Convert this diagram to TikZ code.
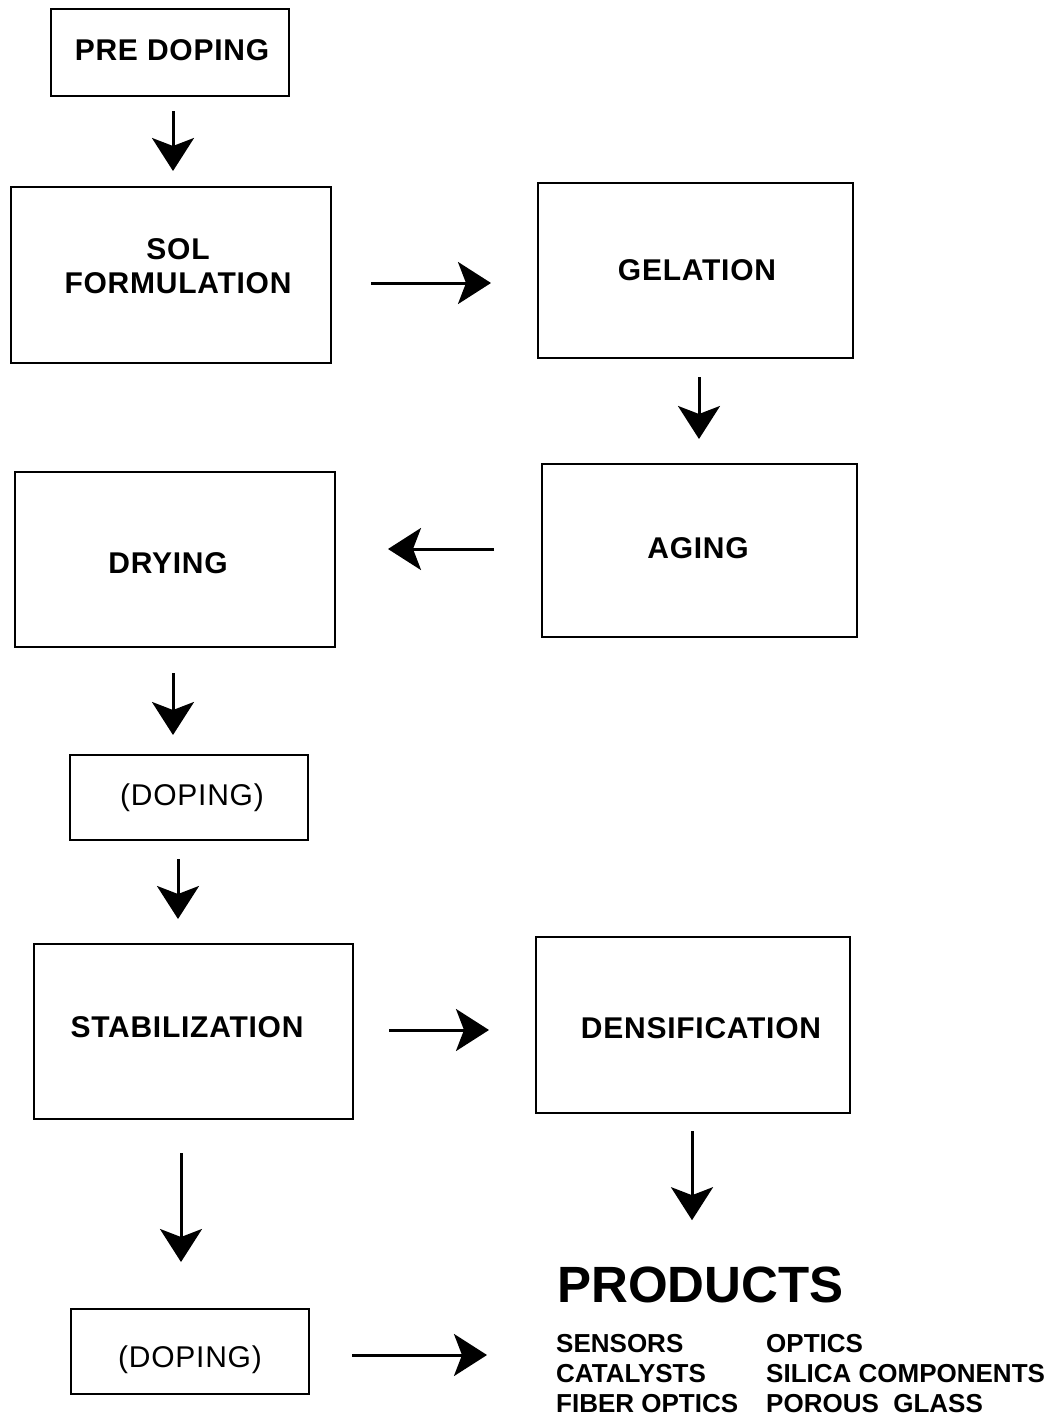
\documentclass[tikz,border=0pt]{standalone}
\usepackage{fontspec}
\setmainfont{Liberation Sans}
\newfontfamily\spfont[LetterSpace=2.5]{Liberation Sans}
\usetikzlibrary{arrows.meta}
\tikzset{
  box/.style={draw, line width=2pt, inner sep=0pt},
  lbl/.style={font=\spfont\fontsize{30}{34}\selectfont\bfseries, align=center, inner sep=0pt},
  prodtitle/.style={font=\fontsize{51}{55}\selectfont\bfseries, inner sep=0pt, anchor=base west},
  prod/.style={font=\fontsize{26}{30}\selectfont\bfseries, inner sep=0pt, anchor=base west},
  arr/.style={line width=3pt, -{Stealth[length=33pt, width=42pt, inset=8pt]}}
}
\begin{document}
\begin{tikzpicture}[x=1pt, y=-1pt]
\useasboundingbox (0,0) rectangle (1057,1416);
% boxes
\node[box, minimum width=238pt, minimum height=87pt] (pre) at (170,52.5) {};
\node[lbl] (preT) at (172,50) {PRE DOPING};
\node[box, minimum width=320pt, minimum height=176pt] (sol) at (171,275) {};
\node[lbl] (solT) at (178,266) {SOL\\FORMULATION};
\node[box, minimum width=315pt, minimum height=175pt] (gel) at (695.5,270.5) {};
\node[lbl] (gelT) at (697,270) {GELATION};
\node[box, minimum width=320pt, minimum height=175pt] (dry) at (175,559.5) {};
\node[lbl] (dryT) at (168,563) {DRYING};
\node[box, minimum width=315pt, minimum height=173pt] (age) at (699.5,550.5) {};
\node[lbl] (ageT) at (698,548) {AGING};
\node[box, minimum width=238pt, minimum height=85pt] (dopa) at (189,797.5) {};
\node[lbl, font=\spfont\fontsize{30}{34}\selectfont] (dopaT) at (192,798) {(DOPING)};
\node[box, minimum width=319pt, minimum height=175pt] (stab) at (193.5,1031.5) {};
\node[lbl] (stabT) at (187,1027) {STABILIZATION};
\node[box, minimum width=314pt, minimum height=176pt] (dens) at (693,1025) {};
\node[lbl] (densT) at (701,1028) {DENSIFICATION};
\node[box, minimum width=238pt, minimum height=85pt] (dopb) at (190,1351.5) {};
\node[lbl, font=\spfont\fontsize{30}{34}\selectfont] (dopbT) at (190,1360) {(DOPING)};
% products
\node[prodtitle] (prodT) at (557,1302) {PRODUCTS};
\node[prod] (sens) at (556,1352) {SENSORS};
\node[prod] (cat) at (556,1382) {CATALYSTS};
\node[prod] (fib) at (556,1412) {FIBER OPTICS};
\node[prod] (opt) at (766,1352) {OPTICS};
\node[prod] (sil) at (766,1382) {SILICA COMPONENTS};
\node[prod] (por) at (766,1412) {POROUS\ \ GLASS};
% arrows
\draw[arr, shorten <=14pt, shorten >=15pt] ([xshift=3pt]pre.south) -- ([xshift=3pt]pre.south |- sol.north);
\draw[arr, shorten <=39pt, shorten >=46pt] ([yshift=-8pt]sol.east) -- ([yshift=-8pt]sol.east -| gel.west);
\draw[arr, shorten <=18pt, shorten >=24pt] ([xshift=3.5pt]gel.south) -- ([xshift=3.5pt]gel.south |- age.north);
\draw[arr, shorten <=47pt, shorten >=52pt] ([yshift=1.5pt]age.west) -- ([yshift=1.5pt]age.west -| dry.east);
\draw[arr, shorten <=25pt, shorten >=19pt] ([xshift=-2pt]dry.south) -- ([xshift=-2pt]dry.south |- dopa.north);
\draw[arr, shorten <=18pt, shorten >=24pt] ([xshift=-11pt]dopa.south) -- ([xshift=-11pt]dopa.south |- stab.north);
\draw[arr, shorten <=35pt, shorten >=46pt] ([yshift=1.5pt]stab.east) -- ([yshift=1.5pt]stab.east -| dens.west);
\draw[arr, shorten <=33pt, shorten >=46pt] ([xshift=-12.5pt]stab.south) -- ([xshift=-12.5pt]stab.south |- dopb.north);
\draw[arr, shorten <=17pt, shorten >=46pt] ([xshift=-1pt]dens.south) -- ([xshift=-1pt]dens.south |- prodT.north);
\draw[arr, shorten <=42pt, shorten >=69pt] ([yshift=-3.5pt]dopb.east) -- ([yshift=-3.5pt]dopb.east -| sens.west);
\end{tikzpicture}
\end{document}
